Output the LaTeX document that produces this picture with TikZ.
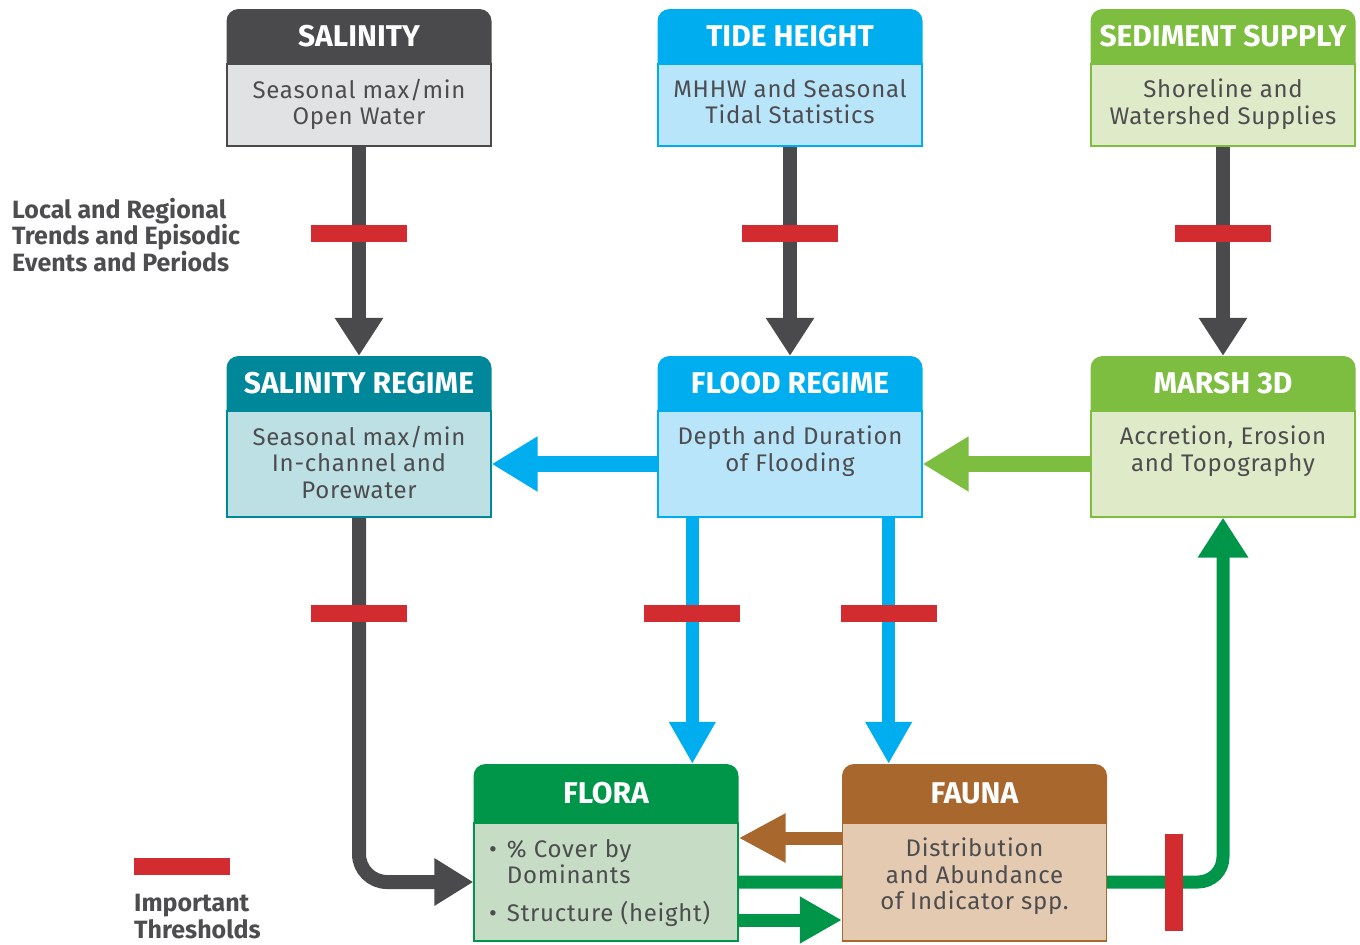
\documentclass[tikz,border=0pt]{standalone}
\usepackage{fontspec}
\setmainfont{Fira Sans}
\usetikzlibrary{arrows.meta,backgrounds,calc}
\definecolor{dgray}{HTML}{4A4A4C}
\definecolor{salb}{HTML}{E1E2E4}
\definecolor{tblue}{HTML}{00ADEE}
\definecolor{tblueb}{HTML}{B9E5FB}
\definecolor{sgreen}{HTML}{7DBE41}
\definecolor{sgreenb}{HTML}{DFEAC9}
\definecolor{teal}{HTML}{00889A}
\definecolor{tealb}{HTML}{BDE0E5}
\definecolor{fgreen}{HTML}{00964A}
\definecolor{fgreenb}{HTML}{C6DCC4}
\definecolor{brown}{HTML}{A8672C}
\definecolor{brownb}{HTML}{E4CAB1}
\definecolor{tred}{HTML}{D22B30}
\definecolor{tgray}{HTML}{4D4D4F}
\newfontfamily\bodyfam{Fira Sans}[LetterSpace=3]
\newcommand{\hdrfont}{\bfseries\fontsize{30}{32}\selectfont}
\newcommand{\bodyfont}{\bodyfam\fontsize{24}{26.5}\selectfont}
\begin{document}
\begin{tikzpicture}[x=1pt,y=-1pt,
  body/.style={line width=1.3pt, minimum width=264pt, inner sep=0pt},
  hdr/.style={minimum width=265pt, inner sep=0pt, text=white, font=\hdrfont,
    path picture={\fill[#1, rounded corners=12pt] ([yshift=-20pt]path picture bounding box.south west) rectangle (path picture bounding box.north east);}},
  txt/.style={text=tgray, font=\bodyfont, align=center, inner sep=0pt, anchor=north},
  side/.style={text=tgray, font=\bfseries\fontsize{25}{26.5}\selectfont, align=left, inner sep=0pt, anchor=north west},
  thr/.style={sharp corners, fill=tred, minimum width=96pt, minimum height=17pt, inner sep=0pt},
  thrv/.style={sharp corners, fill=tred, minimum width=18pt, minimum height=97pt, inner sep=0pt},
  darr/.style={draw=dgray, line width=14pt, -{Triangle[width=46pt,length=38pt]}},
  barr/.style={draw=tblue, line width=13pt, -{Triangle[width=44pt,length=42pt]}},
  harr/.style={line width=16pt, -{Triangle[width=52pt,length=46pt]}},
]
\useasboundingbox (0,0) rectangle (1360,945);

% top row
\node[body, fill=salb, draw=dgray, minimum height=82pt] (sal) at (359,105) {};
\node[hdr=dgray, minimum height=55pt] (salh) at (359,36.5) {SALINITY};
\node[txt] (salt) at ([yshift=-15.5pt]sal.north) {Seasonal max/min\\Open Water};

\node[body, fill=tblueb, draw=tblue, minimum height=82pt] (tide) at (790,105) {};
\node[hdr=tblue, minimum height=55pt] (tideh) at (790,36.5) {TIDE HEIGHT};
\node[txt] (tidet) at ([yshift=-15.5pt]tide.north) {MHHW and Seasonal\\Tidal Statistics};

\node[body, fill=sgreenb, draw=sgreen, minimum height=82pt] (sed) at (1223,105) {};
\node[hdr=sgreen, minimum height=55pt] (sedh) at (1223,36.5) {SEDIMENT SUPPLY};
\node[txt] (sedt) at ([yshift=-15.5pt]sed.north) {Shoreline and\\Watershed Supplies};

% middle row
\node[body, fill=tealb, draw=teal, minimum height=106pt] (salr) at (359,464) {};
\node[hdr=teal, minimum height=55pt] (salrh) at (359,383.5) {SALINITY REGIME};
\node[txt] (salrt) at ([yshift=-15.5pt]salr.north) {Seasonal max/min\\In-channel and\\Porewater};

\node[body, fill=tblueb, draw=tblue, minimum height=106pt] (flood) at (790,464) {};
\node[hdr=tblue, minimum height=55pt] (floodh) at (790,383.5) {FLOOD REGIME};
\node[txt] (floodt) at ([yshift=-15.5pt]flood.north) {Depth and Duration\\of Flooding};

\node[body, fill=sgreenb, draw=sgreen, minimum height=106pt] (marsh) at (1223,464) {};
\node[hdr=sgreen, minimum height=55pt] (marshh) at (1223,383.5) {MARSH 3D};
\node[txt] (marsht) at ([yshift=-15.5pt]marsh.north) {Accretion, Erosion\\and Topography};

% bottom row
\node[body, fill=fgreenb, draw=fgreen, minimum height=118pt] (flora) at (606,882) {};
\node[hdr=fgreen, minimum height=59pt] (florah) at (606,793.5) {FLORA};
\node[txt, anchor=north west, align=left] (florat) at (489,839) {\textbullet\hspace{10pt}\% Cover by\\\phantom{\textbullet}\hspace{10pt}Dominants\\[11pt]\textbullet\hspace{10pt}Structure (height)};

\node[body, fill=brownb, draw=brown, minimum height=118pt] (fauna) at (974.5,882) {};
\node[hdr=brown, minimum height=59pt] (faunah) at (974.5,793.5) {FAUNA};
\node[txt] (faunat) at ([yshift=-15.5pt]fauna.north) {Distribution\\and Abundance\\of Indicator spp.};

% side texts
\node[side] (drivers) at (12,198) {Local and Regional\\Trends and Episodic\\Events and Periods};
\node[thr] (legbar) at (182,866) {};
\node[side, anchor=north west] (legtxt) at (134,894) {Important\\Thresholds};

\begin{scope}[on background layer]
  \draw[darr] (sal.south) -- node[thr, pos=0.417] {} (salrh.north);
  \draw[darr] (tide.south) -- node[thr, pos=0.417] {} (floodh.north);
  \draw[darr] (sed.south) -- node[thr, pos=0.417] {} (marshh.north);
  \draw[harr, draw=tblue] (flood.west) -- (salr.east);
  \draw[harr, draw=sgreen] (marsh.west) -- (flood.east);
  \draw[darr, rounded corners=28pt, -{Triangle[width=45pt,length=39pt]}] (salr.south) |- node[thr, pos=0.132] {} (flora.west);
  \draw[barr] ([xshift=35pt]flood.south west) -- node[thr, pos=0.39] {} ([xshift=35pt]flood.south west |- florah.north);
  \draw[barr] ([xshift=-34pt]flood.south east) -- node[thr, pos=0.39] {} ([xshift=-34pt]flood.south east |- faunah.north);
  \draw[draw=brown, line width=13pt, -{Triangle[width=46pt,length=47pt]}] ([yshift=44pt]fauna.west) -- ([yshift=44pt]flora.east);
  \draw[draw=fgreen, line width=13pt, rounded corners=25pt, -{Triangle[width=48pt,length=40pt]}] (flora.east) -| node[thrv, pos=0.449] {} (marsh.south);
  \draw[draw=fgreen, line width=13pt, -{Triangle[width=44pt,length=42pt]}] ([yshift=-38pt]flora.east) -- ([yshift=-38pt]fauna.west);
\end{scope}
\end{tikzpicture}
\end{document}
